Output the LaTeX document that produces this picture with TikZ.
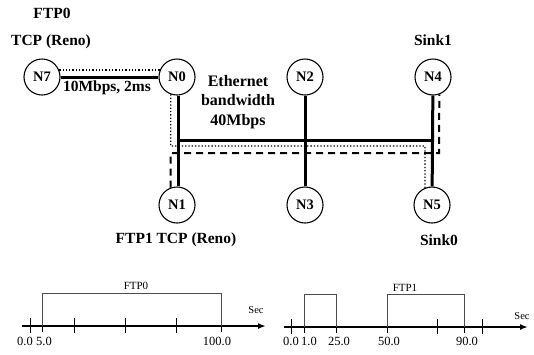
\documentclass[tikz,border=0pt]{standalone}
\usepackage{fontspec}
\setmainfont{Liberation Serif}
\usetikzlibrary{arrows.meta,calc}
\begin{document}
\begin{tikzpicture}[x=1pt,y=-1pt,
  nd/.style={circle,draw,line width=1.1pt,minimum size=36pt,inner sep=0pt,font=\fontsize{14.5}{14.5}\selectfont\bfseries},
  lbl/.style={font=\fontsize{15.5}{15.5}\selectfont\bfseries,inner sep=0pt},
  thk/.style={line width=3pt},
  dots/.style={line width=1.3pt,dotted},
  dsh/.style={line width=2pt,dash pattern=on 7pt off 5pt},
  tl/.style={font=\fontsize{12.5}{12.5}\selectfont,inner sep=0pt},
  ax/.style={line width=1.6pt,-{Latex[length=8pt,width=6pt]}},
  tick/.style={line width=1pt},
  pulse/.style={line width=0.7pt,draw=black!70}]
\useasboundingbox (0,0) rectangle (534,354);
% nodes
\node[nd] (N7) at (42,77) {N7};
\node[nd] (N0) at (177,77) {N0};
\node[nd] (N2) at (305,77) {N2};
\node[nd] (N4) at (433,77) {N4};
\node[nd] (N1) at (177,205) {N1};
\node[nd] (N3) at (305,205) {N3};
\node[nd] (N5) at (432,205) {N5};
% links
\coordinate (bl) at (178,140);
\coordinate (br) at (432,140);
\draw[thk] (N7) -- (N0);
\draw[thk] (N0.south -| bl) -- (N1.north -| bl);
\draw[thk] (bl) -- (br);
\draw[thk] (N2) -- (N3);
\draw[thk] (N4) -- (N5);
% dotted flow
\draw[dots] (N7.22) -- (N0.158);
\coordinate (d1) at (171,146);
\coordinate (d2) at (425,146);
\draw[dots] (N0.250) -- (N0.250 |- d1) -- (d2) -- (N5.112);
% dashed flow
\coordinate (e1) at (170,153);
\coordinate (e2) at (439,153);
\draw[dsh] (N1.110) -- (N1.110 |- e1) -- (e2) -- (N4.290);
% labels
\node[lbl] (ftp0) at (52,13) {FTP0};
\node[lbl] (tcp0) at (51,42) {TCP (Reno)};
\node[lbl] (lk) at (107,88) {10Mbps, 2ms};
\node[lbl,align=center,font=\fontsize{16}{19.5}\selectfont\bfseries] (eth) at (238,102) {Ethernet\\bandwidth\\40Mbps};
\node[lbl] (s1) at (433,40) {Sink1};
\node[lbl] (ftp1) at (176,240) {FTP1 TCP (Reno)};
\node[lbl] (s0) at (439,240) {Sink0};
% left timeline
\coordinate (la) at (22,326);
\coordinate (lb) at (266,326);
\draw[ax] (la) -- (lb);
\foreach \x in {30,74,125,176} \draw[tick] (\x,318) -- (\x,333);
\draw[tick] (42,320) -- (42,332);
\draw[tick] (221,320) -- (221,332);
\draw[pulse] (42,326) -- (42,293) -- (221,293) -- (221,326);
\node[tl] (lf) at (136,286) {\fontsize{11}{11}\selectfont FTP0};
\node[tl] (l0) at (25,341) {0.0};
\node[tl] (l5) at (44,341) {5.0};
\node[tl] (l100) at (217,341) {100.0};
\node[tl] (ls) at (256,310) {\fontsize{10.5}{10.5}\selectfont Sec};
% right timeline
\coordinate (ra) at (284,327);
\coordinate (rb) at (528,327);
\draw[ax] (ra) -- (rb);
\foreach \x in {291,437,482} \draw[tick] (\x,319) -- (\x,334);
\foreach \x in {304,336,387,464} \draw[tick] (\x,321) -- (\x,333);
\draw[pulse] (304,327) -- (304,294) -- (336,294) -- (336,327);
\draw[pulse] (387,327) -- (387,294) -- (464,294) -- (464,327);
\node[tl] (rf) at (405,288) {\fontsize{11}{11}\selectfont FTP1};
\node[tl] (r0) at (291,341) {0.0};
\node[tl] (r1) at (309,341) {1.0};
\node[tl] (r25) at (339,341) {25.0};
\node[tl] (r50) at (389,341) {50.0};
\node[tl] (r90) at (467,341) {90.0};
\node[tl] (rs) at (522,316) {\fontsize{10.5}{10.5}\selectfont Sec};
\end{tikzpicture}
\end{document}
